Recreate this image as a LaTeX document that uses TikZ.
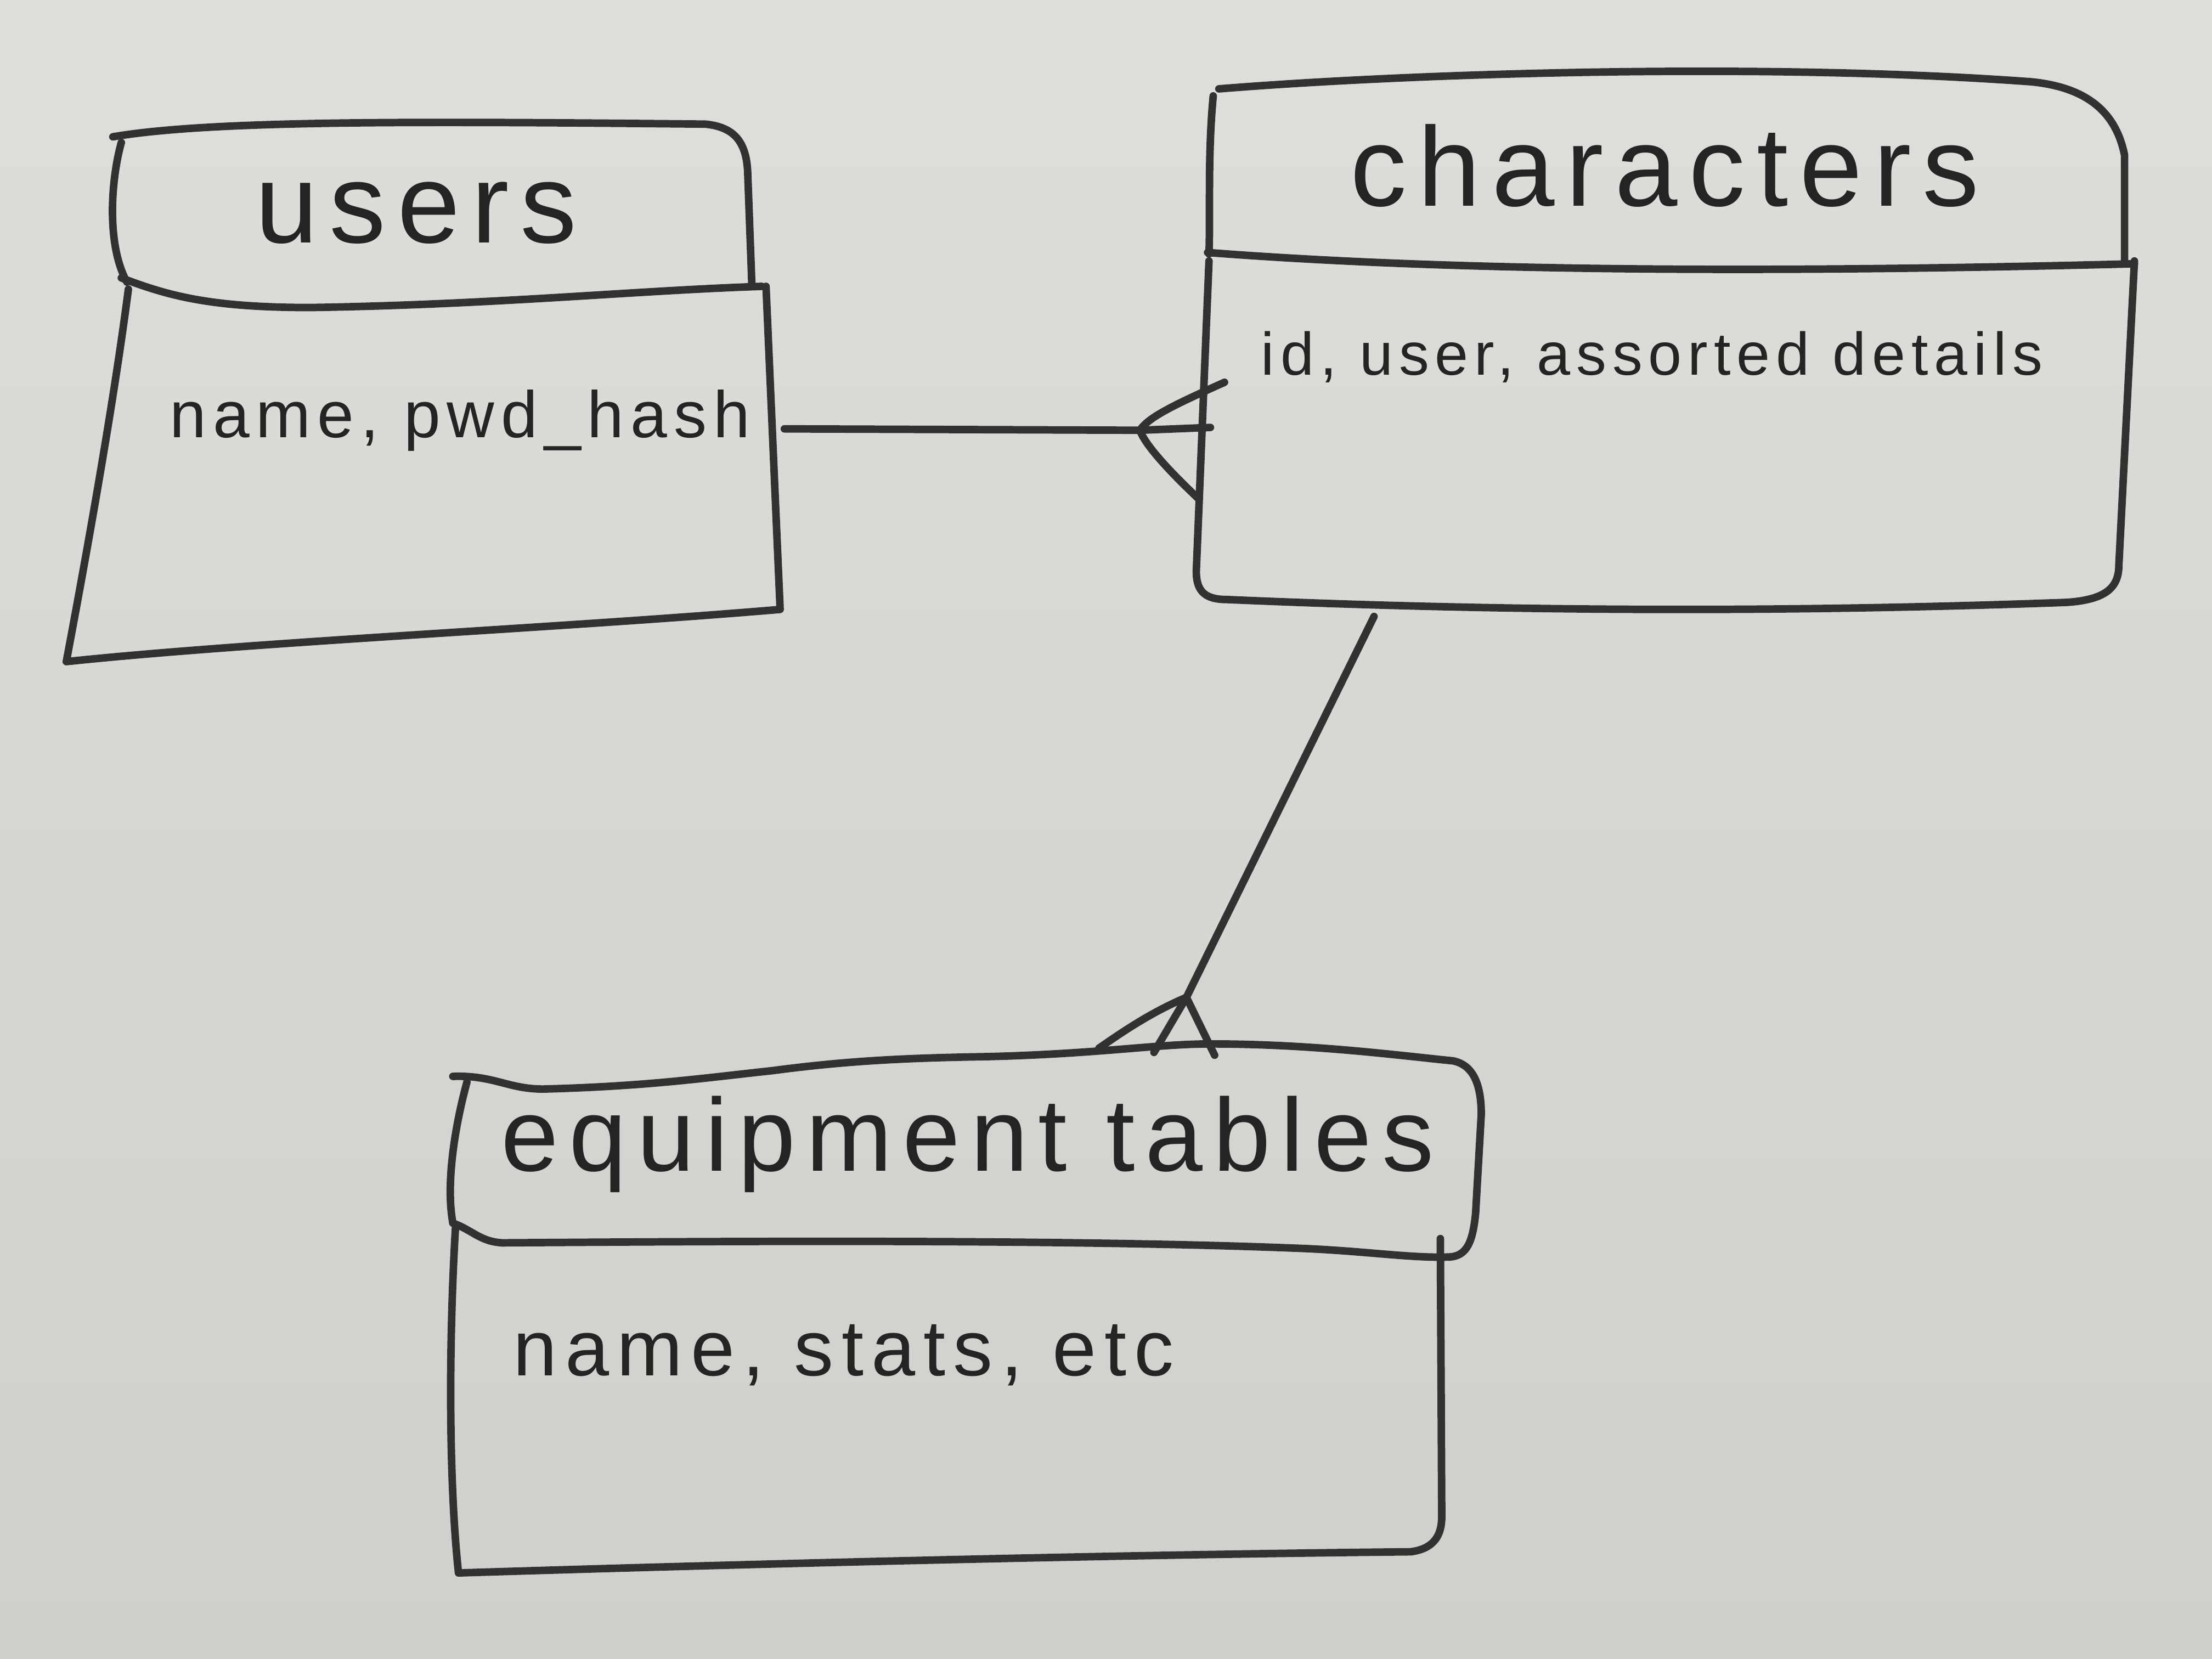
\documentclass[tikz,border=0pt]{standalone}
\usepackage{fontspec}
\newfontfamily\handfont[LetterSpace=10]{Liberation Sans}
\begin{document}
\begin{tikzpicture}[x=0.75pt,y=0.75pt,yscale=-1,xscale=1,
  inkline/.style={color={rgb, 255:red, 50; green, 50; blue, 50 }, line width=4, line cap=round, line join=round},
  headtext/.style={text={rgb, 255:red, 36; green, 36; blue, 36 }, anchor=base, inner sep=0, font=\handfont\fontsize{60}{64}\selectfont},
  bodytext/.style={text={rgb, 255:red, 36; green, 36; blue, 36 }, anchor=base, inner sep=0, font=\handfont\fontsize{35}{40}\selectfont}]
%set diagram left start at 0, and has height of 1176
\useasboundingbox (0,0) rectangle (1568,1176);
\shade [top color={rgb, 255:red, 222; green, 222; blue, 218 }, bottom color={rgb, 255:red, 208; green, 207; blue, 203 }] (0,0) rectangle (1568,1176);

%Shape: users table
\draw [inkline] (80,97) .. controls (150,85) and (300,86) .. (500,88) .. controls (520,90) and (529,100) .. (530,122) -- (533,203) ;
\draw [inkline] (86,101) .. controls (78,130) and (76,175) .. (90,200) ;
\draw [inkline] (86,197) .. controls (120,210) and (150,218) .. (220,218) .. controls (350,216) and (450,206) .. (540,203) ;
\draw [inkline] (91,205) .. controls (80,290) and (60,400) .. (47,469) .. controls (180,455) and (400,445) .. (553,432) -- (543,203) ;

%Shape: characters table
\draw [inkline] (864,63) .. controls (1000,52) and (1250,44) .. (1440,58) .. controls (1480,62) and (1500,80) .. (1506,110) -- (1506,186) ;
\draw [inkline] (860,68) .. controls (856,110) and (858,150) .. (857,180) ;
\draw [inkline] (856,179) .. controls (1000,190) and (1200,195) .. (1513,187) ;
\draw [inkline] (857,185) -- (848,405) .. controls (848,420) and (855,425) .. (870,425) .. controls (1100,435) and (1300,433) .. (1465,427) .. controls (1495,425) and (1502,415) .. (1502,400) -- (1513,185) ;

%Shape: equipment tables table
\draw [inkline] (321,763) .. controls (350,762) and (360,772) .. (385,772) .. controls (460,770) and (500,764) .. (547,759) .. controls (600,752) and (640,750) .. (700,749) .. controls (780,747) and (820,740) .. (858,740) .. controls (930,740) and (990,748) .. (1030,752) .. controls (1045,755) and (1050,770) .. (1050,790) -- (1046,860) .. controls (1044,880) and (1040,890) .. (1028,891) ;
\draw [inkline] (331,767) .. controls (322,800) and (316,840) .. (321,867) ;
\draw [inkline] (321,867) .. controls (335,872) and (340,880) .. (356,881) .. controls (500,880) and (750,878) .. (924,885) .. controls (970,887) and (1000,892) .. (1028,891) ;
\draw [inkline] (323,868) .. controls (318,950) and (318,1050) .. (325,1115) .. controls (550,1108) and (800,1102) .. (1000,1100) .. controls (1015,1098) and (1022,1090) .. (1022,1075) -- (1021,878) ;

%Text
\node [headtext] (usersTitle) at (295,172) {users};
\node [bodytext] (usersCols) at (326,310) {name, pwd\_hash};
\node [headtext] (charsTitle) at (1180,146) {characters};
\node [bodytext, font=\handfont\fontsize{32}{36}\selectfont] (charsCols) at (1171,266) {id, user, assorted details};
\node [headtext, font=\handfont\fontsize{55}{60}\selectfont] (equipTitle) at (686,830) {equipment tables};
\node [bodytext, font=\handfont\fontsize{42}{46}\selectfont] (equipCols) at (598,975) {name, stats, etc};

%Connector ends
\coordinate (usersR) at (556,304);
\coordinate (charsB) at (974,437);
\coordinate (crowA) at (808,305);
\coordinate (crowA1) at (868,271);
\coordinate (crowA2) at (858,303);
\coordinate (crowA3) at (849,353);
\coordinate (crowB) at (841,707);
\coordinate (crowB1) at (779,743);
\coordinate (crowB2) at (818,746);
\coordinate (crowB3) at (861,748);

%Straight Lines: users to characters
\draw [inkline] (usersR) -- (crowA) ;
\draw [inkline] (crowA) .. controls (814,296) and (830,288) .. (crowA1) ;
\draw [inkline] (crowA) -- (crowA2) ;
\draw [inkline] (crowA) .. controls (812,316) and (830,335) .. (crowA3) ;

%Straight Lines: characters to equipment tables
\draw [inkline] (charsB) -- (crowB) ;
\draw [inkline] (crowB) .. controls (815,718) and (795,732) .. (crowB1) ;
\draw [inkline] (crowB) -- (crowB2) ;
\draw [inkline] (crowB) -- (crowB3) ;

\end{tikzpicture}
\end{document}
